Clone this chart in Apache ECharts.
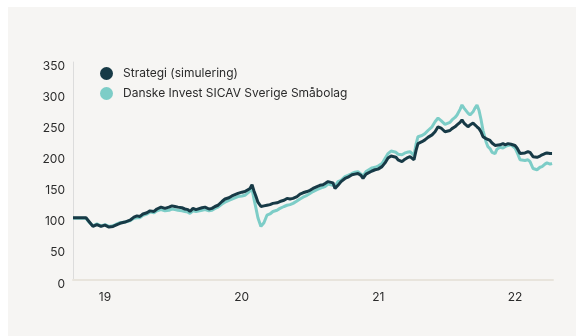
<!DOCTYPE html>
<html>
<head>
<meta charset="utf-8">
<script src="https://cdn.jsdelivr.net/npm/echarts@6/dist/echarts.min.js"></script>
<style>
  html, body { margin: 0; padding: 0; background: #ffffff; }
  #panel { position: absolute; left: 8px; top: 7px; width: 568px; height: 329px; background: #f6f5f3; }
  #chart { position: absolute; left: 0; top: 0; width: 576px; height: 336px; }
</style>
</head>
<body>
<div id="panel"></div>
<div id="chart"></div>
<script>
// time in decimal years
var dates = [
    2018.766, 2018.817, 2018.861, 2018.883, 2018.912, 2018.941, 2018.971, 2019.000, 2019.029, 2019.059,
    2019.088, 2019.110, 2019.146, 2019.183, 2019.212, 2019.234, 2019.256, 2019.278, 2019.307, 2019.329,
    2019.359, 2019.380, 2019.410, 2019.439, 2019.468, 2019.490, 2019.512, 2019.534, 2019.563, 2019.585,
    2019.607, 2019.622, 2019.644, 2019.666, 2019.680, 2019.710, 2019.732, 2019.761, 2019.783, 2019.805,
    2019.827, 2019.856, 2019.878, 2019.907, 2019.929, 2019.951, 2019.973, 2020.002, 2020.024, 2020.046,
    2020.061, 2020.076, 2020.090, 2020.105, 2020.119, 2020.141, 2020.163, 2020.185, 2020.207, 2020.229,
    2020.259, 2020.280, 2020.310, 2020.332, 2020.354, 2020.376, 2020.405, 2020.427, 2020.449, 2020.478,
    2020.500, 2020.522, 2020.551, 2020.573, 2020.595, 2020.610, 2020.632, 2020.646, 2020.668, 2020.683,
    2020.705, 2020.727, 2020.756, 2020.778, 2020.807, 2020.829, 2020.851, 2020.873, 2020.888, 2020.910,
    2020.924, 2020.954, 2020.976, 2020.998, 2021.027, 2021.049, 2021.071, 2021.093, 2021.107, 2021.129,
    2021.144, 2021.173, 2021.195, 2021.210, 2021.232, 2021.246, 2021.261, 2021.276, 2021.290, 2021.319,
    2021.341, 2021.363, 2021.393, 2021.415, 2021.437, 2021.459, 2021.473, 2021.488, 2021.502, 2021.524,
    2021.539, 2021.561, 2021.576, 2021.598, 2021.612, 2021.627, 2021.634, 2021.656, 2021.671, 2021.693,
    2021.707, 2021.722, 2021.737, 2021.751, 2021.766, 2021.788, 2021.802, 2021.817, 2021.832, 2021.854,
    2021.868, 2021.890, 2021.912, 2021.927, 2021.949, 2021.971, 2021.985, 2022.000, 2022.015, 2022.037,
    2022.051, 2022.073, 2022.095, 2022.110, 2022.132, 2022.146, 2022.161, 2022.183, 2022.198, 2022.219,
    2022.234, 2022.256, 2022.271
];

var strategi = [
    100, 100, 100, 94, 86, 89, 86, 88, 85, 86,
    89, 91, 93, 96, 101, 103, 102, 106, 108, 111,
    110, 114, 117, 115, 117, 119, 118, 117, 116, 114,
    113, 110, 115, 113, 114, 116, 117, 114, 115, 118,
    120, 126, 130, 132, 135, 137, 139, 141, 142, 145,
    147, 153, 143, 134, 125, 118, 119, 120, 121, 123,
    124, 126, 128, 131, 130, 131, 134, 138, 140, 142,
    144, 147, 150, 152, 153, 155, 158, 160, 156, 147,
    152, 158, 163, 165, 169, 170, 171, 168, 163, 170,
    173, 175, 177, 178, 182, 188, 196, 199, 201, 197,
    193, 190, 194, 196, 198, 199, 193, 208, 219, 222,
    225, 229, 233, 238, 246, 244, 243, 238, 235, 240,
    243, 246, 249, 253, 257, 252, 249, 246, 249, 252,
    250, 246, 243, 238, 230, 227, 226, 224, 220, 216,
    215, 217, 219, 217, 219, 218, 219, 216, 212, 203,
    204, 204, 206, 205, 198, 197, 197, 199, 201, 203,
    204, 203, 203
];

var danske = [
    99, 99, 99, 93, 87, 90, 87, 89, 86, 87,
    90, 92, 93, 95, 99, 100, 100, 104, 106, 109,
    108, 111, 113, 111, 112, 114, 113, 112, 111, 110,
    109, 107, 111, 110, 111, 112, 113, 111, 112, 115,
    117, 122, 125, 128, 130, 132, 134, 135, 136, 140,
    143, 146, 130, 115, 100, 86, 92, 104, 106, 110,
    112, 115, 118, 120, 121, 123, 127, 130, 133, 136,
    139, 142, 145, 147, 149, 150, 154, 156, 152, 150,
    158, 160, 166, 168, 171, 173, 174, 170, 167, 174,
    177, 180, 181, 183, 187, 195, 203, 207, 209, 205,
    202, 201, 204, 205, 206, 206, 200, 218, 230, 232,
    235, 240, 246, 254, 260, 256, 255, 250, 249, 253,
    257, 261, 265, 274, 281, 276, 273, 268, 265, 270,
    276, 281, 272, 258, 240, 222, 214, 211, 205, 203,
    210, 213, 212, 214, 216, 217, 215, 212, 205, 193,
    190, 192, 193, 190, 179, 178, 177, 181, 182, 186,
    188, 186, 187
];

var yearTicks = [2019, 2020, 2021, 2022];
var seriesNames = ['Strategi (simulering)', 'Danske Invest SICAV Sverige Småbolag'];

function pairs(xs, ys) {
    return xs.map(function (x, i) { return [x, ys[i]]; });
}

var chart = echarts.init(document.getElementById('chart'), null, { renderer: 'canvas' });

var option = {
    backgroundColor: 'transparent',
    animation: false,
    textStyle: { fontFamily: 'Inter, "Noto Sans", sans-serif' },
    color: ['#173a46', '#7dcdc7'],
    legend: {
        data: seriesNames,
        orient: 'vertical',
        left: 95,
        top: 62,
        icon: 'circle',
        itemWidth: 13,
        itemHeight: 13,
        itemGap: 7,
        textStyle: { fontSize: 12, color: '#2b2b2b', padding: [0, 0, 0, 5] }
    },
    grid: { left: 73, right: 23, top: 62, bottom: 56 },
    xAxis: {
        type: 'value',
        min: 2018.766,
        max: 2022.278,
        splitLine: { show: false },
        axisTick: { show: false },
        axisLine: { lineStyle: { color: '#e8e4dc', width: 2 } },
        axisLabel: {
            customValues: yearTicks,
            margin: 11,
            fontSize: 12,
            color: '#2b2b2b',
            formatter: function (v) { return String(Math.round(v)).slice(2); }
        }
    },
    yAxis: {
        type: 'value',
        min: 0,
        max: 350,
        interval: 50,
        splitLine: { show: false },
        axisTick: { show: false },
        axisLine: { show: true, lineStyle: { color: '#dcdcdc', width: 1 } },
        axisLabel: { margin: 8, fontSize: 12, color: '#2b2b2b', verticalAlign: 'top', lineHeight: 8 }
    },
    series: [
        {
            name: seriesNames[0],
            type: 'line',
            z: 3,
            showSymbol: false,
            data: pairs(dates, strategi),
            lineStyle: { width: 3, color: '#173a46' }
        },
        {
            name: seriesNames[1],
            type: 'line',
            z: 2,
            showSymbol: false,
            data: pairs(dates, danske),
            lineStyle: { width: 3, color: '#7dcdc7' }
        }
    ]
};

chart.setOption(option);
</script>
</body>
</html>
